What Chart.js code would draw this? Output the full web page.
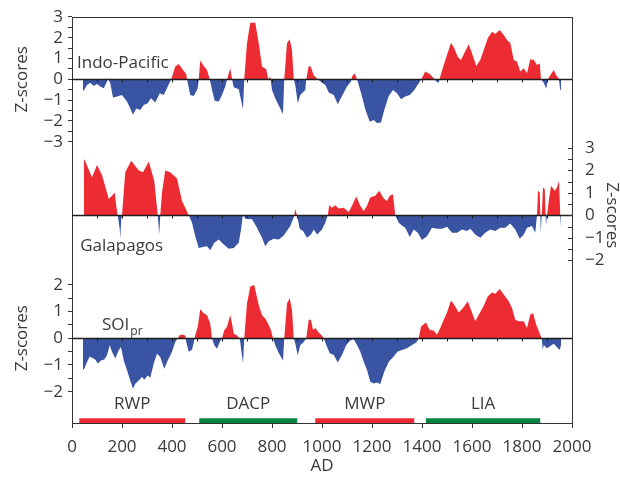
<!DOCTYPE html>
<html>
<head>
<meta charset="utf-8">
<script src="https://cdn.jsdelivr.net/npm/chart.js@4.4.1/dist/chart.umd.min.js"></script>
<style>
  html, body { margin: 0; padding: 0; background: #fff; }
</style>
</head>
<body>
<canvas id="chart" width="620" height="479"></canvas>
<script>
/* Three stacked Z-score records (Indo-Pacific, Galapagos, SOIpr), AD 0-2000 */

// Indo-Pacific (top panel, left axis)
const indoYears = [44, 49, 60, 73, 87, 100, 113, 127, 140, 144, 153, 164, 180, 200, 220, 233, 244, 257, 273, 287,
  303, 316, 333, 351, 367, 383, 397, 413, 427, 444, 457, 460, 473, 487, 503, 507, 513, 527, 540, 551,
  560, 571, 587, 600, 613, 627, 633, 640, 647, 667, 684, 689, 700, 713, 733, 747, 760, 777, 785, 793,
  800, 813, 833, 844, 849, 860, 871, 880, 887, 893, 903, 913, 933, 937, 947, 955, 967, 983, 1000, 1013,
  1027, 1047, 1063, 1080, 1100, 1116, 1120, 1131, 1140, 1147, 1160, 1173, 1191, 1207, 1220, 1236, 1249, 1267, 1284, 1300,
  1316, 1333, 1351, 1369, 1387, 1397, 1413, 1431, 1447, 1457, 1467, 1473, 1487, 1500, 1516, 1529, 1543, 1556, 1569, 1587,
  1600, 1617, 1633, 1647, 1663, 1680, 1693, 1711, 1727, 1743, 1753, 1767, 1780, 1793, 1807, 1820, 1833, 1847, 1860, 1871,
  1876, 1887, 1897, 1903, 1913, 1927, 1940, 1947, 1953, 1957];
const indoValues = [-0.55, -0.5, -0.27, -0.16, -0.32, -0.22, -0.35, -0.43, -0.1, 0.05, -0.19, -0.87, -0.83, -0.75, -1.07, -1.4, -1.71, -1.4, -1.47, -1.23,
  -1.15, -0.91, -1.12, -0.67, -0.75, -0.35, 0, 0.61, 0.74, 0.45, 0.26, 0, -0.75, -0.8, -0.43, 0, 0.9, 0.64, 0.45, 0,
  -0.51, -1.03, -1.07, -0.75, -0.35, 0.29, 0.53, 0, -0.38, -0.48, -1.44, 0, 1.73, 2.72, 2.72, 1.73, 0.61, 0.48, 0, 0.13,
  -0.51, -0.91, -1.4, -1.67, 0, 1.73, 1.92, 1.41, 0, -0.27, -1.15, -0.75, -0.51, 0, 0.64, 0.6, 0.2, 0, -0.16, -0.27,
  -0.64, -0.75, -1.2, -0.8, -0.35, -0.11, 0.13, 0.29, 0, -0.27, -0.83, -1.44, -2.04, -1.96, -2.1, -2.08, -1.47, -0.8, -0.51, -0.67,
  -0.96, -0.83, -0.75, -0.51, -0.19, 0, 0.37, 0.26, 0.05, -0.11, -0.16, 0.13, 0.69, 1.17, 1.76, 1.49, 1.09, 0.93, 1.25, 1.68,
  1.25, 0.64, 0.93, 1.41, 1.97, 2.29, 2.18, 2.37, 2.13, 1.84, 1.76, 0.93, 0.85, 0.37, 0.53, 0.29, 0.96, 0.93, 0.69, 0.77,
  0, -0.16, -0.45, 0, 0.2, 0.45, 0.13, 0.05, -0.51, -0.51];

// Galapagos (middle panel, right axis)
const galaYears = [47, 52, 80, 100, 120, 147, 160, 171, 177, 183, 191, 193, 197, 200, 213, 237, 267, 284, 307, 329,
  343, 349, 353, 360, 373, 393, 420, 440, 467, 480, 493, 507, 527, 540, 553, 569, 587, 607, 627, 647,
  667, 676, 684, 693, 720, 740, 760, 773, 787, 807, 827, 847, 873, 887, 893, 900, 911, 924, 940, 956,
  967, 980, 1000, 1013, 1023, 1029, 1040, 1053, 1067, 1087, 1107, 1120, 1137, 1153, 1167, 1180, 1193, 1213, 1229, 1247,
  1260, 1271, 1284, 1293, 1307, 1320, 1333, 1351, 1367, 1383, 1400, 1420, 1440, 1460, 1480, 1500, 1520, 1540, 1560, 1580,
  1593, 1613, 1633, 1653, 1673, 1693, 1713, 1733, 1753, 1773, 1791, 1807, 1820, 1840, 1853, 1860, 1864, 1871, 1875, 1879,
  1884, 1891, 1896, 1900, 1907, 1916, 1931, 1940, 1948, 1953, 1956];
const galaValues = [2.51, 2.43, 1.69, 2.24, 1.79, 0.72, 0.87, 1.01, 0.42, 0, -0.63, -1.04, -0.18, 0, 1.91, 2.43, 1.99, 1.91, 2.39, 1.54,
  0, -0.85, 0, 1.01, 1.99, 1.91, 1.64, 0.64, 0, -0.33, -0.93, -1.45, -1.4, -1.37, -1.55, -1.22, -1.07, -1.3, -1.49, -1.45,
  -1.22, -0.63, 0.04, -0.15, -0.18, -0.55, -1.0, -1.37, -1.15, -1.04, -1.07, -0.9, -0.48, -0.1, 0.27, 0, -0.6, -0.7, -1.0, -0.85,
  -0.63, -0.85, -0.63, -0.33, 0, 0.45, 0.34, 0.45, 0.3, 0.34, 0.15, 0.42, 0.84, 0.42, 0.19, 0.42, 0.79, 0.87, 1.09, 0.75,
  0.64, 0.87, 0.94, 0, -0.33, -0.45, -0.55, -0.96, -0.63, -0.78, -1.1, -0.93, -0.55, -0.6, -0.6, -0.51, -0.78, -0.78, -0.63, -0.7,
  -0.6, -0.85, -1.0, -0.78, -0.63, -0.7, -0.55, -0.55, -0.36, -0.63, -1.04, -0.85, -0.55, -0.48, -0.78, 0, 1.09, 1.01, -0.78, 0,
  1.24, 1.16, -0.45, 0, 0.64, 1.31, 1.09, 1.24, 1.54, 0, -0.51];

// SOIpr (bottom panel, left axis)
const soiYears = [44, 49, 60, 71, 80, 93, 103, 116, 129, 140, 151, 160, 173, 187, 196, 207, 220, 233, 244, 253,
  267, 280, 289, 303, 313, 327, 340, 353, 369, 383, 400, 413, 423, 431, 440, 453, 457, 467, 480, 489,
  493, 503, 513, 527, 540, 553, 560, 569, 580, 591, 600, 609, 620, 633, 640, 647, 660, 671, 677, 684,
  689, 700, 713, 729, 747, 760, 773, 787, 796, 804, 813, 827, 844, 849, 860, 871, 880, 887, 893, 903,
  913, 927, 937, 947, 956, 964, 973, 987, 1000, 1007, 1017, 1031, 1047, 1063, 1080, 1097, 1113, 1127, 1140, 1153,
  1167, 1180, 1193, 1207, 1220, 1233, 1249, 1267, 1284, 1303, 1320, 1340, 1360, 1377, 1387, 1396, 1416, 1431, 1447, 1460,
  1473, 1487, 1500, 1516, 1529, 1547, 1564, 1583, 1596, 1613, 1631, 1647, 1663, 1680, 1693, 1711, 1727, 1747, 1760, 1773,
  1787, 1807, 1820, 1833, 1844, 1857, 1873, 1879, 1883, 1887, 1900, 1913, 1927, 1940, 1951, 1956];
const soiValues = [-1.18, -1.14, -0.89, -0.68, -0.73, -0.8, -0.95, -0.83, -0.8, -0.64, -0.26, -0.51, -0.76, -0.45, -0.33, -0.83, -1.2, -1.58, -1.89, -1.7,
  -1.58, -1.45, -1.55, -1.39, -1.48, -0.95, -0.58, -0.7, -1.14, -0.83, -0.51, -0.14, 0, 0.11, 0.14, 0.1, -0.14, -0.51, -0.43, -0.08,
  0.11, 0.43, 1.08, 0.93, 0.86, 0.55, 0, -0.26, -0.39, -0.14, 0, 0.3, 0.43, 0.86, 0.55, 0.18, 0.1, 0, -0.45, -0.95,
  0, 1.3, 1.93, 1.99, 1.24, 0.86, 0.74, 0.49, 0.3, 0, -0.26, -0.55, -0.83, 0, 1.3, 1.49, 1.05, 0, -0.2, -0.64,
  -0.26, -0.14, 0, 0.7, 0.68, 0.31, 0.38, 0.21, 0.09, 0, -0.25, -0.56, -0.63, -0.91, -0.63, -0.25, -0.09, -0.04, -0.25, -0.5,
  -0.88, -1.19, -1.63, -1.69, -1.66, -1.71, -1.25, -0.88, -0.71, -0.5, -0.44, -0.38, -0.25, -0.16, 0, 0.44, 0.59, 0.31, 0.29, 0.13,
  0.38, 0.69, 0.96, 1.41, 1.25, 0.96, 1.13, 1.38, 1.06, 0.63, 0.94, 1.21, 1.56, 1.71, 1.66, 1.84, 1.63, 1.38, 1.13, 0.69,
  0.63, 0.63, 0.38, 0.88, 0.94, 0.5, 0.13, 0, -0.44, -0.25, -0.38, -0.29, -0.21, -0.34, -0.44, -0.25];

// Climate periods shown as bars along the bottom
const periodNames = ['RWP', 'DACP', 'MWP', 'LIA'];
const periodStart = [29, 509, 973, 1416];
const periodEnd = [453, 901, 1369, 1873];

// Tick labels
const topTickLabels = [-3, -2, -1, 0, 1, 2, 3];
const midTickLabels = [-2, -1, 0, 1, 2, 3];
const botTickLabels = [-2, -1, 0, 1, 2];

const RED = '#ed2b33';
const BLUE = '#3a54a4';
const GREEN = '#00853f';
const AXIS = '#333333';
const TEXT = '#3a3a3a';
const FONT = "'Open Sans', sans-serif";

// plot box in canvas pixels, and where each panel's zero line sits
const AREA_TOP = 17, AREA_BOTTOM = 423, AREA_LEFT = 72;
const panels = {
  yTop: { zero: 79.3, unit: 20.8 },
  yMid: { zero: 215.3, unit: 22.5 },
  yBot: { zero: 338.2, unit: 26.75 }
};
const BAR_LEVEL = -3.09;   // on the SOI axis

function panelRange(id) {
  const p = panels[id];
  return { min: -(AREA_BOTTOM - p.zero) / p.unit, max: (p.zero - AREA_TOP) / p.unit };
}

// integer labels plus unlabelled half steps
function withHalfSteps(labels) {
  const vals = [];
  for (let v = labels[0]; v <= labels[labels.length - 1] + 1e-9; v += 0.5) vals.push(v);
  return vals;
}

function minusSign(v) {
  return v < 0 ? '\u2212' + Math.abs(v) : String(v);
}

function panelAxis(id, position, labels, extra) {
  const r = panelRange(id);
  return Object.assign({
    type: 'linear',
    position,
    min: r.min,
    max: r.max,
    afterBuildTicks(scale) {
      scale.ticks = withHalfSteps(labels).map(v => ({ value: v }));
    },
    ticks: {
      autoSkip: false,
      padding: 5,
      color: TEXT,
      font: { family: FONT, size: 17 },
      callback: v => Number.isInteger(v) ? minusSign(v) : ''
    }
  }, extra);
}

function toPoints(years, values) {
  return years.map((yr, i) => ({ x: yr, y: values[i] }));
}

function panelDataset(label, years, values, axis) {
  return {
    label,
    data: toPoints(years, values),
    yAxisID: axis,
    borderWidth: 0,
    borderColor: 'rgba(0,0,0,0)',
    pointRadius: 0,
    tension: 0,
    fill: { target: { value: 0 }, above: RED, below: BLUE }
  };
}

const periodDatasets = periodNames.map((name, i) => ({
  label: name,
  data: [{ x: periodStart[i], y: BAR_LEVEL }, { x: periodEnd[i], y: BAR_LEVEL }],
  yAxisID: 'yBot',
  borderColor: i % 2 === 0 ? RED : GREEN,
  borderWidth: 5,
  borderCapStyle: 'butt',
  pointRadius: 0,
  fill: false
}));

function strokeLine(ctx, x1, y1, x2, y2) {
  ctx.beginPath();
  ctx.moveTo(x1, y1);
  ctx.lineTo(x2, y2);
  ctx.stroke();
}

function rotatedText(ctx, text, x, y, angle) {
  ctx.save();
  ctx.translate(x, y);
  ctx.rotate(angle);
  ctx.textAlign = 'center';
  ctx.textBaseline = 'middle';
  ctx.fillText(text, 0, 0);
  ctx.restore();
}

// both left axes share the same strip left of the plot
const shareLeftStrip = {
  id: 'shareLeftStrip',
  afterLayout(chart) {
    const b = chart.scales.yBot;
    b.left = 0;
    b.right = chart.chartArea.left;
    b.width = b.right - b.left;
  }
};

const decorations = {
  id: 'decorations',
  afterDatasetsDraw(chart) {
    const { ctx, chartArea: a, scales } = chart;
    const xs = scales.x;
    ctx.save();

    // top edge of the box
    ctx.strokeStyle = AXIS;
    ctx.lineWidth = 1;
    strokeLine(ctx, a.left, a.top + 0.5, a.right, a.top + 0.5);

    // zero line of each panel with small century ticks
    ['yTop', 'yMid', 'yBot'].forEach(id => {
      const y0 = Math.round(scales[id].getPixelForValue(0)) + 0.5;
      ctx.strokeStyle = '#1e1e1e';
      ctx.lineWidth = 1.3;
      strokeLine(ctx, a.left, y0, a.right, y0);
      ctx.lineWidth = 1;
      for (let yr = 100; yr < 2000; yr += 100) {
        const px = Math.round(xs.getPixelForValue(yr)) + 0.5;
        strokeLine(ctx, px, y0, px, y0 + 3);
      }
    });

    // right axis ticks point inward
    const ym = scales.yMid;
    ctx.strokeStyle = AXIS;
    ym.ticks.forEach(t => {
      const py = Math.round(ym.getPixelForValue(t.value)) + 0.5;
      strokeLine(ctx, a.right - 4, py, a.right, py);
    });

    ctx.fillStyle = TEXT;
    ctx.font = '17px ' + FONT;

    // axis titles
    rotatedText(ctx, 'Z-scores', 22, scales.yTop.getPixelForValue(0), -Math.PI / 2);
    rotatedText(ctx, 'Z-scores', 22, scales.yBot.getPixelForValue(0), -Math.PI / 2);
    rotatedText(ctx, 'Z-scores', 612, ym.getPixelForValue(0), Math.PI / 2);
    ctx.textAlign = 'center';
    ctx.textBaseline = 'middle';
    ctx.fillText('AD', (a.left + a.right) / 2, 466);

    // panel names
    ctx.textAlign = 'left';
    ctx.fillText('Indo-Pacific', xs.getPixelForValue(20), scales.yTop.getPixelForValue(0.8));
    ctx.fillText('Galapagos', xs.getPixelForValue(33), ym.getPixelForValue(-1.36));
    const sx = xs.getPixelForValue(120);
    const sy = scales.yBot.getPixelForValue(0.49);
    ctx.fillText('SOI', sx, sy);
    const w = ctx.measureText('SOI').width;
    ctx.font = '12px ' + FONT;
    ctx.fillText('pr', sx + w + 1, sy + 6);

    // period labels above their bars
    ctx.font = '17px ' + FONT;
    ctx.textAlign = 'center';
    periodNames.forEach((name, i) => {
      const cx = xs.getPixelForValue((periodStart[i] + periodEnd[i]) / 2);
      ctx.fillText(name, cx, scales.yBot.getPixelForValue(-2.46));
    });

    ctx.restore();
  }
};

new Chart(document.getElementById('chart'), {
  type: 'line',
  data: {
    datasets: [
      panelDataset('Indo-Pacific', indoYears, indoValues, 'yTop'),
      panelDataset('Galapagos', galaYears, galaValues, 'yMid'),
      panelDataset('SOIpr', soiYears, soiValues, 'yBot'),
      ...periodDatasets
    ]
  },
  options: {
    responsive: false,
    animation: false,
    layout: { padding: { top: AREA_TOP, left: 0, right: 0, bottom: 0 } },
    plugins: { legend: { display: false }, tooltip: { enabled: false } },
    scales: {
      x: {
        type: 'linear',
        min: 0,
        max: 2000,
        afterFit(scale) { scale.height = 479 - AREA_BOTTOM; },
        grid: { drawOnChartArea: false, tickLength: 5, color: AXIS },
        border: { display: true, color: AXIS },
        ticks: {
          stepSize: 200,
          maxRotation: 0,
          autoSkip: false,
          padding: 9,
          color: TEXT,
          font: { family: FONT, size: 17 },
          callback: v => String(v)
        }
      },
      yTop: panelAxis('yTop', 'left', topTickLabels, {
        weight: 1,
        afterFit(scale) { scale.width = AREA_LEFT; },
        grid: { drawOnChartArea: false, tickLength: 4, color: AXIS },
        border: { display: true, color: AXIS }
      }),
      yBot: panelAxis('yBot', 'left', botTickLabels, {
        weight: 0,
        afterFit(scale) { scale.width = 0; },
        grid: { drawOnChartArea: false, tickLength: 4, color: AXIS },
        border: { display: false }
      }),
      yMid: panelAxis('yMid', 'right', midTickLabels, {
        afterFit(scale) { scale.width = 620 - 572; },
        grid: { display: false },
        border: { display: true, color: AXIS }
      })
    }
  },
  plugins: [shareLeftStrip, decorations]
});
</script>
</body>
</html>
